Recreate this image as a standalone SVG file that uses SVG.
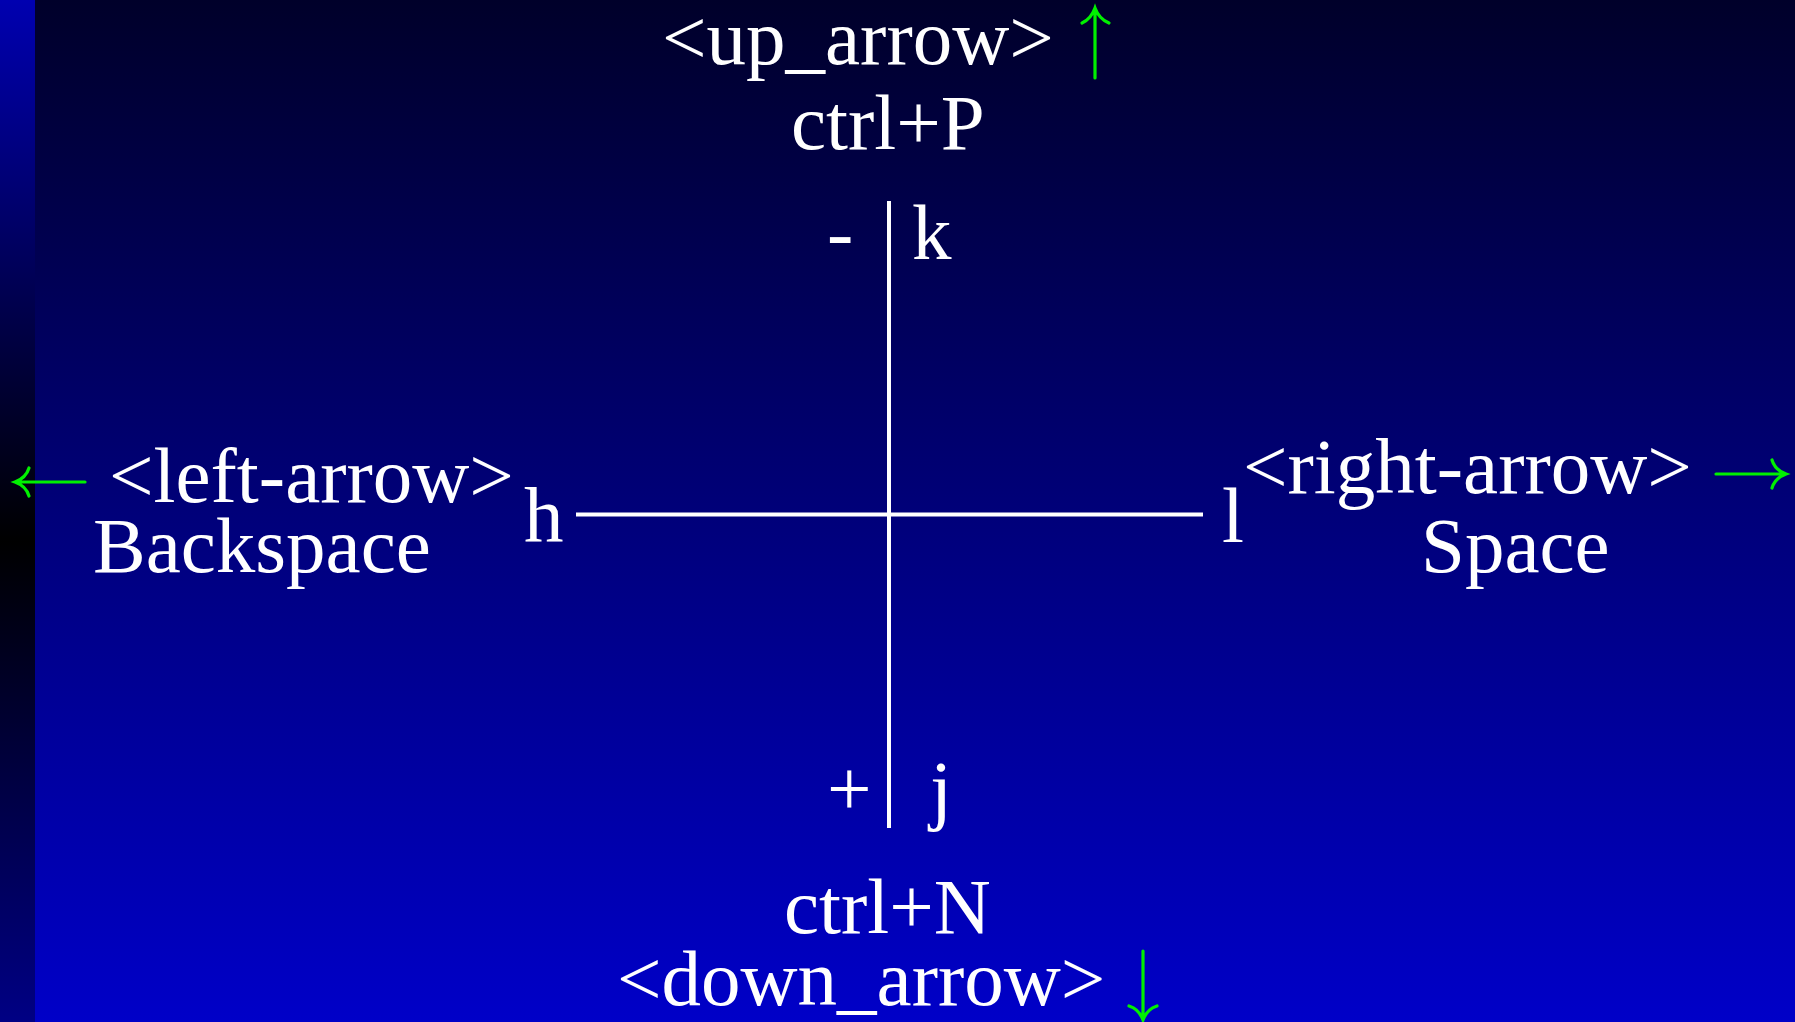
<svg xmlns="http://www.w3.org/2000/svg" width="1795" height="1022" viewBox="0 0 1795 1022">
<defs>
<linearGradient id="bg" x1="0" y1="0" x2="0" y2="1">
<stop offset="0" stop-color="#00002a"/>
<stop offset="1" stop-color="#0000c8"/>
</linearGradient>
<linearGradient id="strip" x1="0" y1="0" x2="0" y2="1">
<stop offset="0" stop-color="#0000b0"/>
<stop offset="0.53" stop-color="#000000"/>
<stop offset="1" stop-color="#000084"/>
</linearGradient>
<style>
text{font-family:"Liberation Serif","Times New Roman",serif;font-size:79px;fill:#ffffff}
.axis{stroke:#ffffff;stroke-width:4;fill:none}
.arr{stroke:#00f000;stroke-width:3.2;fill:none;stroke-linecap:round}
</style>
</defs>
<rect x="0" y="0" width="1795" height="1022" fill="url(#bg)"/>
<rect x="0" y="0" width="35" height="1022" fill="url(#strip)"/>
<g id="connectors">
<line class="axis" x1="889" y1="201" x2="889" y2="828"/>
<line class="axis" x1="576" y1="514.5" x2="1203" y2="514.5"/>
<path class="arr" d="M1095,78 L1095,9 M1082,23 Q1091,19 1095,8 Q1099,19 1109,23"/>
<path class="arr" d="M85,482 L16,482 M29,468 Q26,478 15,482 Q26,486 29,496"/>
<path class="arr" d="M1716,474 L1785,474 M1772,460 Q1775,470 1786,474 Q1775,478 1772,488"/>
<path class="arr" d="M1143,951 L1143,1019 M1129,1006 Q1139,1009 1143,1020 Q1147,1009 1157,1006"/>
</g>
<g id="up">
<text x="662" y="64">&lt;up_arrow&gt;</text>
<text x="791" y="149">ctrl+P</text>
</g>
<g id="k-key">
<text x="827" y="259">-</text>
<text x="912" y="259">k</text>
</g>
<g id="h-key"><text x="524" y="542">h</text></g>
<g id="l-key"><text x="1222" y="542">l</text></g>
<g id="left">
<text x="109" y="502">&lt;left-arrow&gt;</text>
<text x="93" y="572">Backspace</text>
</g>
<g id="right">
<text x="1243" y="493">&lt;right-arrow&gt;</text>
<text x="1421" y="572">Space</text>
</g>
<g id="j-key">
<text x="827" y="815">+</text>
<text x="930" y="815">j</text>
</g>
<g id="down">
<text x="784" y="933">ctrl+N</text>
<text x="617" y="1005">&lt;down_arrow&gt;</text>
</g>
</svg>
